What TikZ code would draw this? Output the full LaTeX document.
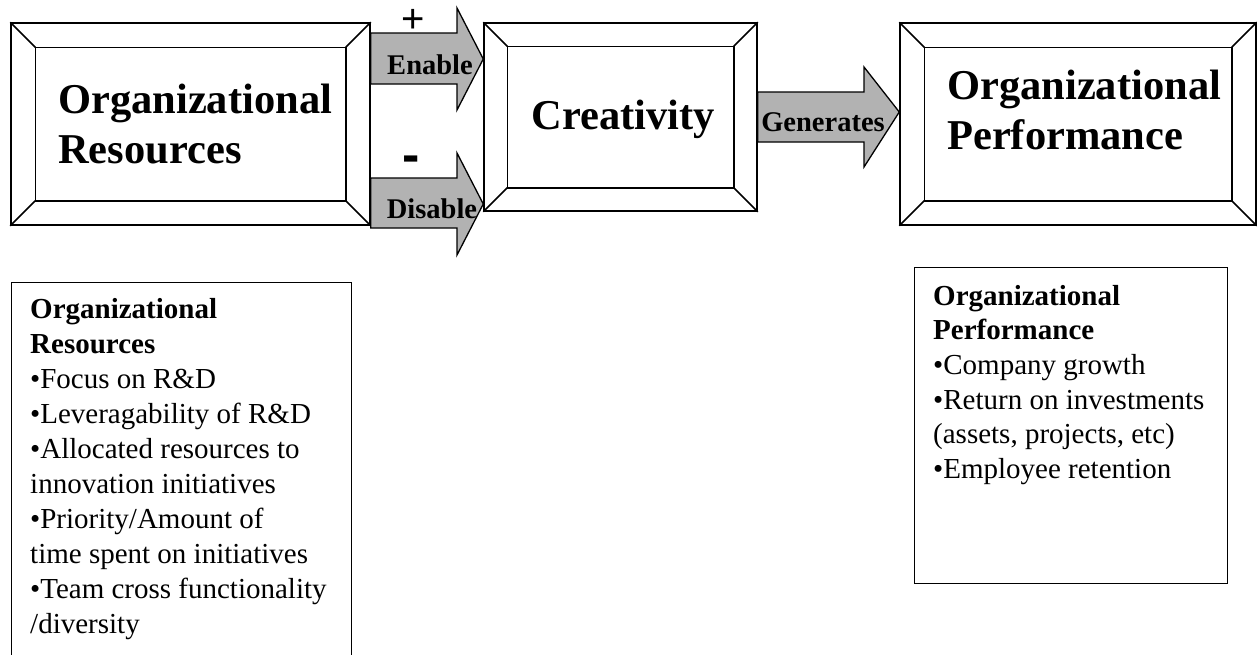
\documentclass[tikz,border=0pt]{standalone}
\usepackage{fontspec}
\setmainfont{Liberation Serif}
\newfontfamily\arialfont{Liberation Sans}
\definecolor{arrowfill}{RGB}{178,178,178}
\newcommand\bevelin[2]{%
  \draw[bevelline] ([shift={(#2,#2)}]#1.north west) rectangle ([shift={(-#2,-#2)}]#1.south east);
  \draw[bevelline] (#1.north west) -- ++(#2,#2) (#1.north east) -- ++(-#2,#2)
                   (#1.south west) -- ++(#2,-#2) (#1.south east) -- ++(-#2,-#2);}
\begin{document}
\begin{tikzpicture}[x=1pt,y=-1pt,
  bevelbox/.style={draw, line width=1.5pt, fill=white, inner sep=0pt},
  bevelline/.style={line width=1.5pt},
  blockarrow/.style={draw, line width=1.3pt, fill=arrowfill, line join=miter},
  listbox/.style={draw, line width=1.3pt, fill=white, inner sep=0pt},
  bigtext/.style={font=\fontsize{42.5}{50}\selectfont\bfseries, align=left, inner sep=0pt},
  arrowtext/.style={font=\fontsize{28.5}{34}\selectfont\bfseries, inner sep=0pt},
  listtext/.style={font=\fontsize{29}{35}\selectfont, align=left, inner sep=0pt}]
\useasboundingbox (0,0) rectangle (1257,654);
\fill[white] (0,0) rectangle (1257,654);

% bevel boxes
\node[bevelbox, minimum width=359pt, minimum height=202pt] (res) at (190.5,124) {};
\bevelin{res}{25}
\node[bevelbox, minimum width=273pt, minimum height=188pt] (crea) at (620.5,117) {};
\bevelin{crea}{24}
\node[bevelbox, minimum width=356pt, minimum height=202pt] (perf) at (1078,124) {};
\bevelin{perf}{25}

% block arrows
\draw[blockarrow] (res.east |- 0,33) -- (457,33) -- (457,8) -- (crea.west |- 0,59)
  -- (457,110) -- (457,84) -- (res.east |- 0,84) -- cycle;
\draw[blockarrow] (res.east |- 0,178) -- (457,178) -- (457,153) -- (crea.west |- 0,204)
  -- (457,255) -- (457,228) -- (res.east |- 0,228) -- cycle;
\draw[blockarrow] (crea.east |- 0,92) -- (864,92) -- (864,67) -- (perf.west |- 0,112)
  -- (864,167) -- (864,142) -- (crea.east |- 0,142) -- cycle;

% texts
\node[bigtext, anchor=west] (rest) at (58,124) {Organizational\\Resources};
\node[bigtext, anchor=base] (creat) at (623,129) {Creativity};
\node[bigtext, anchor=west] (perft) at (947,110) {Organizational\\Performance};

\node[arrowtext, anchor=base] (enl) at (430,74) {Enable};
\node[arrowtext, anchor=base] (disl) at (432,218) {Disable};
\node[arrowtext, anchor=base] (genl) at (823,131) {Generates};
\node[font=\arialfont\fontsize{40}{40}\selectfont, inner sep=0pt, anchor=base] (plus) at (413,32) {+};
\node[font=\arialfont\bfseries\fontsize{52}{52}\selectfont, inner sep=0pt, anchor=base] (minus) at (411,172) {-};

% lower boxes
\node[listbox, minimum width=340pt, minimum height=390pt, anchor=north west] (lbox) at (11,282) {};
\node[listbox, minimum width=313pt, minimum height=316pt, anchor=north west] (rbox) at (914,267) {};

\node[listtext, anchor=north west] (ltxt) at (30,298) {\textbf{Organizational}\\\textbf{Resources}\\•Focus on R\&D\\•Leveragability of R\&D\\•Allocated resources to\\innovation initiatives\\•Priority/Amount of\\time spent on initiatives\\•Team cross functionality\\/diversity};
\node[listtext, font=\fontsize{29}{34.6}\selectfont, anchor=north west] (rtxt) at (933,285) {\textbf{Organizational}\\\textbf{Performance}\\•Company growth\\•Return on investments\\(assets, projects, etc)\\•Employee retention};
\end{tikzpicture}
\end{document}
